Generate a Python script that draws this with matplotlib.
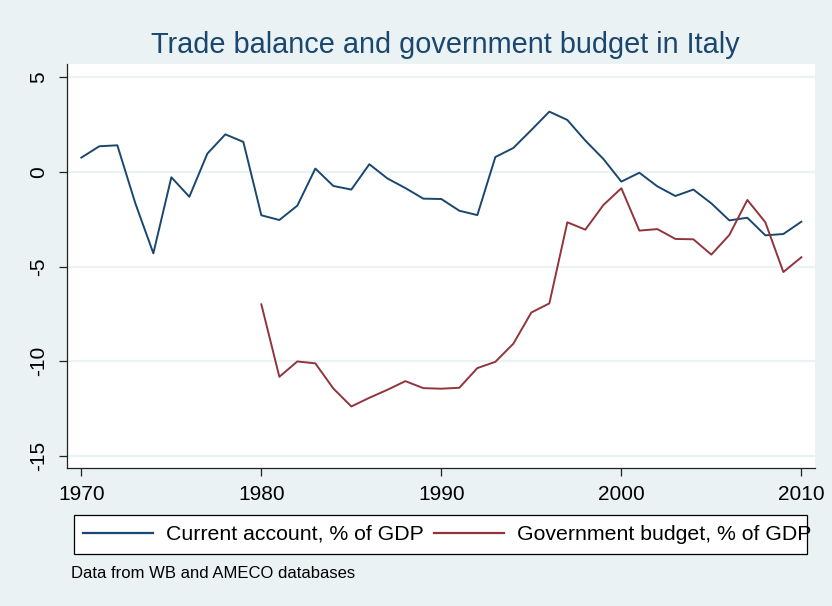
import matplotlib
matplotlib.use("Agg")
import matplotlib.pyplot as plt
from matplotlib.patches import Rectangle

plt.rcParams['font.family'] = ['Liberation Sans', 'DejaVu Sans']

years_ca = list(range(1970, 2011))
current_account = [0.76, 1.36, 1.41, -1.66, -4.30, -0.28, -1.31, 0.97, 1.99, 1.59,
                   -2.29, -2.54, -1.78, 0.18, -0.74, -0.93, 0.41, -0.34, -0.85, -1.41,
                   -1.43, -2.05, -2.28, 0.79, 1.27, 2.22, 3.19, 2.75, 1.66, 0.69,
                   -0.51, -0.04, -0.76, -1.27, -0.93, -1.66, -2.56, -2.42, -3.35, -3.28,
                   -2.63]
years_gb = list(range(1980, 2011))
gov_budget = [-7.00, -10.83, -10.02, -10.12, -11.45, -12.40, -11.94, -11.52, -11.06, -11.43,
              -11.46, -11.41, -10.37, -10.04, -9.08, -7.43, -6.95, -2.66, -3.05, -1.75,
              -0.86, -3.10, -3.02, -3.54, -3.56, -4.37, -3.33, -1.48, -2.66, -5.29,
              -4.51]
x_ticks = [1970, 1980, 1990, 2000, 2010]
y_ticks = [5, 0, -5, -10, -15]
title = "Trade balance and government budget in Italy"
labels = ["Current account, % of GDP", "Government budget, % of GDP"]
caption = "Data from WB and AMECO databases"

bg = '#EAF2F3'
blue = '#1A476F'
red = '#90353B'

W, H = 832, 606
fig = plt.figure(figsize=(8.32, 6.06), dpi=100, facecolor=bg)
ax = fig.add_axes([0.0809, 0.2272, 0.8987, 0.6672])
ax.set_facecolor('white')

l1, = ax.plot(years_ca, current_account, color=blue, lw=1.4, label=labels[0])
l2, = ax.plot(years_gb, gov_budget, color=red, lw=1.4, label=labels[1])

ax.set_xlim(1969.22, 2010.76)
ax.set_ylim(-15.67, 5.71)
ax.set_xticks(x_ticks)
ax.set_yticks(y_ticks)
ax.set_yticklabels([str(v) for v in y_ticks], rotation=90, va='center')
for y in y_ticks:
    ax.axhline(y, color=bg, lw=1.6, zorder=0)

for s in ['top', 'right']:
    ax.spines[s].set_visible(False)
for s in ['left', 'bottom']:
    ax.spines[s].set_color('#222222')
    ax.spines[s].set_linewidth(0.9)
ax.tick_params(axis='both', direction='out', length=6, width=0.9, colors='#222222',
               labelsize=15, labelcolor='black')
ax.tick_params(axis='x', pad=6)
ax.tick_params(axis='y', pad=8)

fig.text(0.535, 0.9257, title, ha='center', va='center', fontsize=20.8, color=blue)

# legend frame (box)
fig.patches.append(Rectangle((74 / W, 1 - 554 / H), (807 - 74) / W, (554 - 515) / H,
                             transform=fig.transFigure, facecolor='white',
                             edgecolor='black', linewidth=0.9, zorder=0))
leg = fig.legend([l1, l2], labels, loc='center left', bbox_to_anchor=(83 / W, 1 - 534.5 / H),
                 ncol=2, frameon=False, fontsize=15.3, handlelength=3.3, handletextpad=0.6,
                 columnspacing=0.5, borderpad=0.0, borderaxespad=0)
for h in leg.legend_handles:
    h.set_linewidth(1.6)

fig.text(0.085, 0.054, caption, ha='left', va='center', fontsize=12)

fig.savefig('out.png', dpi=100, facecolor=bg)
